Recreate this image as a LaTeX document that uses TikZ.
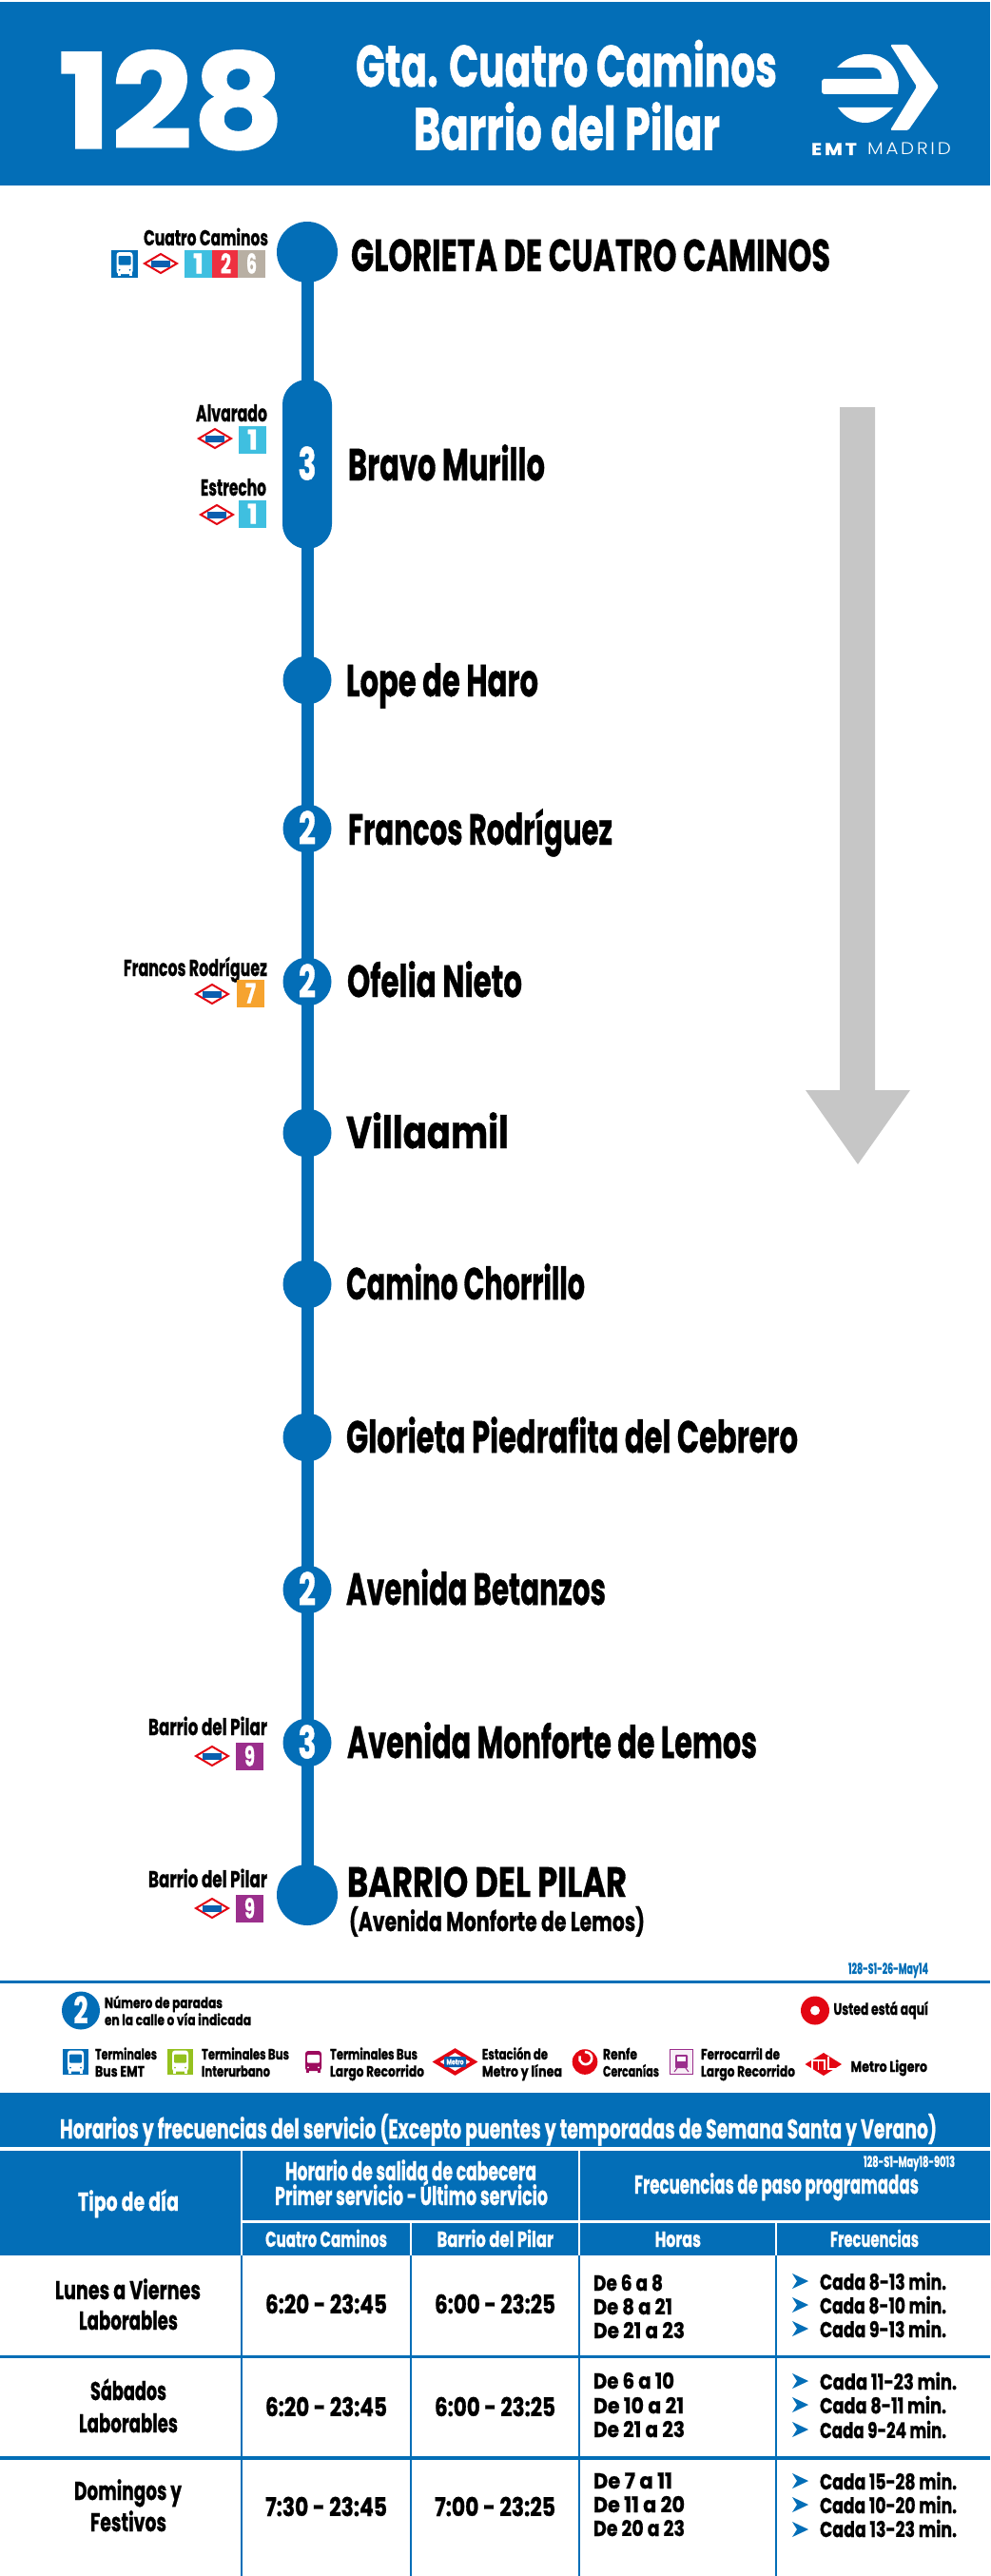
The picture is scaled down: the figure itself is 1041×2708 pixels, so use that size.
\documentclass[tikz,border=0pt]{standalone}
\usepackage{graphicx}
\usepackage{fontspec}
\setmainfont{Poppins}[BoldFeatures={FakeBold=1.0}]
\usetikzlibrary{backgrounds}
\definecolor{emt}{RGB}{3,110,183}
\definecolor{mred}{RGB}{227,6,19}
\definecolor{mbar}{RGB}{11,95,175}
\definecolor{lone}{RGB}{63,191,224}
\definecolor{ltwo}{RGB}{238,48,64}
\definecolor{lsix}{RGB}{184,175,163}
\definecolor{lsev}{RGB}{246,163,47}
\definecolor{lnin}{RGB}{155,47,140}
\definecolor{agrey}{RGB}{198,198,198}
\definecolor{bgreen}{RGB}{149,193,31}
\definecolor{bmag}{RGB}{157,11,93}
\newcounter{tn}
% left-aligned text: x, base y, width, cap height, text
\newcommand\T[6][black]{\stepcounter{tn}\edef\tnm{t\arabic{tn}}%
 \pgfmathsetmacro\fsz{#5/0.7}%
 \node[txt,text=#1,anchor=base west] (\tnm) at ({#2},{#3}) {\resizebox{#4pt}{\height}{\fontsize{\fsz pt}{\fsz pt}\selectfont\bfseries #6}};}
% centred text: cx, cy, width, cap height, text
\newcommand\N[6][white]{\stepcounter{tn}\edef\tnm{t\arabic{tn}}%
 \pgfmathsetmacro\fsz{#5/0.7}%
 \node[txt,text=#1,anchor=base] (\tnm) at ({#2},{#3+#5/2}) {\resizebox{#4pt}{\height}{\fontsize{\fsz pt}{\fsz pt}\selectfont\bfseries #6}};}
\newcommand\metro[2]{%
 \draw[mred,line width=2pt,fill=white,line join=miter] ({#1-17},{#2}) -- ({#1},{#2-10}) -- ({#1+17},{#2}) -- ({#1},{#2+10}) -- cycle;
 \fill[mbar] ({#1-10},{#2-3.5}) rectangle ({#1+10},{#2+3.5});}
\newcommand\tile[4]{\fill[#3] ({#1},{#2}) rectangle ({#1+29},{#2+29});
 \N{#1+14.5}{#2+14.5}{11}{20}{#4}}
% bus: cx, cy, w, h, body, window
\newcommand\busic[6]{%
 \fill[#5,rounded corners=3pt] ({#1-#3/2},{#2-#4/2}) rectangle ({#1+#3/2},{#2+#4/2-2});
 \fill[#5] ({#1-#3/2+1},{#2+#4/2-3}) rectangle ({#1-#3/2+4},{#2+#4/2});
 \fill[#5] ({#1+#3/2-4},{#2+#4/2-3}) rectangle ({#1+#3/2-1},{#2+#4/2});
 \fill[#6,rounded corners=1pt] ({#1-#3/2+2},{#2-#4/2+4}) rectangle ({#1+#3/2-2},{#2+1});
 \fill[#6] ({#1-#3/2+3},{#2+#4/4}) circle (1);
 \fill[#6] ({#1+#3/2-3},{#2+#4/4}) circle (1);}
\newcommand\chev[1]{\fill[emt] (833,{#1-8}) -- (850,{#1}) -- (833,{#1+8}) -- (838,{#1}) -- cycle;}
\tikzset{
 txt/.style={inner sep=0pt,outer sep=0pt},
 stopdot/.style={circle,fill=emt,minimum size=51pt,inner sep=0pt},
 enddot/.style={circle,fill=emt,minimum size=64pt,inner sep=0pt},
 capsule/.style={rectangle,fill=emt,rounded corners=26pt,minimum width=52pt,minimum height=178pt,inner sep=0pt},
 route/.style={emt,line width=13pt},
 rulew/.style={white,line width=3pt},
 ruleb/.style={emt,line width=2.6pt},
 ruleB/.style={emt,line width=3.8pt}
}
\begin{document}
\begin{tikzpicture}[x=1pt,y=-1pt]
\useasboundingbox (0,0) rectangle (1041,2708);
% header
\fill[emt] (0,2) rectangle (1041,195);
\T[white]{61}{156}{238}{97}{128}
\T[white]{374}{91}{443}{43}{Gta. Cuatro Caminos}
\T[white]{435}{157.5}{322}{44}{Barrio del Pilar}
% logo
\fill[white,rounded corners=1.5pt] (936,47) -- (955,47) -- (987,91) -- (955,137) -- (936,137) -- (964,91) -- cycle;
\fill[white] (880,71) .. controls (888,62) and (900,57) .. (912,57) .. controls (932,57) and (945,72) .. (945,90) -- (944,99) -- (866,99) -- (864,97) -- (864,85) -- (866,83) -- (927,83) .. controls (927,76) and (924,71) .. (918,71) -- cycle;
\fill[white] (881,113) -- (939,113) .. controls (930,123) and (920,129) .. (910,129) .. controls (898,129) and (888,123) .. (881,113) -- cycle;
\node[txt,text=white,anchor=base west] (emtw) at (853,163) {\resizebox{45pt}{\height}{\fontsize{18pt}{18pt}\selectfont\addfontfeature{LetterSpace=14}\bfseries EMT\kern-2.5pt}};
\node[txt,text=white,anchor=base west] (madrid) at (912,163) {\resizebox{85pt}{\height}{\fontsize{18pt}{18pt}\fontspec{Poppins Light}[LetterSpace=14]MADRID\kern-2.5pt}};
% direction arrow
\fill[agrey] (883,428) -- (920,428) -- (920,1146) -- (957,1146) -- (902,1224) -- (847,1146) -- (883,1146) -- cycle;
% stops
\node[enddot] (s0) at (323,265) {};
\node[capsule] (s1) at (323,488) {};
\node[stopdot] (s2) at (323,715) {};
\node[stopdot] (s3) at (323,871) {};
\node[stopdot] (s4) at (323,1032) {};
\node[stopdot] (s5) at (323,1191) {};
\node[stopdot] (s6) at (323,1350) {};
\node[stopdot] (s7) at (323,1511) {};
\node[stopdot] (s8) at (323,1671) {};
\node[stopdot] (s9) at (323,1832) {};
\node[enddot] (s10) at (323,1992) {};
\begin{pgfonlayer}{background}
\draw[route] (s0.center) -- (s1.center); \draw[route] (s1.center) -- (s2.center); \draw[route] (s2.center) -- (s3.center);
\draw[route] (s3.center) -- (s4.center); \draw[route] (s4.center) -- (s5.center); \draw[route] (s5.center) -- (s6.center);
\draw[route] (s6.center) -- (s7.center); \draw[route] (s7.center) -- (s8.center); \draw[route] (s8.center) -- (s9.center);
\draw[route] (s9.center) -- (s10.center);
\end{pgfonlayer}
\N{323}{488}{19}{33}{3}
\N{323}{871}{18}{33}{2}
\N{323}{1032}{18}{33}{2}
\N{323}{1671}{18}{33}{2}
\N{323}{1832}{19}{33}{3}
% stop names
\T{369}{285}{504}{33}{GLORIETA DE CUATRO CAMINOS}
\T{366}{505}{207}{33}{Bravo Murillo}
\T{364}{732}{202}{33}{Lope de Haro}
\T{366}{888}{278}{32}{Francos Rodríguez}
\T{365}{1048}{184}{33}{Ofelia Nieto}
\T{364}{1207}{171}{33}{Villaamil}
\T{364}{1366}{251}{33}{Camino Chorrillo}
\T{364}{1527}{475}{33}{Glorieta Piedrafita del Cebrero}
\T{364}{1687}{273}{33}{Avenida Betanzos}
\T{365}{1848}{431}{33}{Avenida Monforte de Lemos}
\T{365}{1994}{294}{31}{BARRIO DEL PILAR}
\T{367}{2030}{311}{20}{(Avenida Monforte de Lemos)}
% connections
\T{151}{258}{131}{16}{Cuatro Caminos}
\fill[emt] (117,263) rectangle (145,292);
\busic{131}{277.5}{17}{25}{white}{emt}
\metro{169}{277}
\tile{194}{263}{lone}{1}
\tile{223}{263}{ltwo}{2}
\tile{250}{263}{lsix}{6}
\T{206}{443}{75}{17}{Alvarado}
\metro{226}{461}
\tile{251}{448}{lone}{1}
\T{211}{521}{69}{17}{Estrecho}
\metro{228}{541}
\tile{251}{526}{lone}{1}
\T{130}{1026}{151}{17}{Francos Rodríguez}
\metro{223}{1045}
\tile{249}{1030}{lsev}{7}
\T{156}{1824}{125}{17}{Barrio del Pilar}
\metro{223}{1846}
\tile{248}{1832}{lnin}{9}
\T{156}{1984}{125}{17}{Barrio del Pilar}
\metro{223}{2006}
\tile{248}{1992}{lnin}{9}
% legend
\T[emt]{892}{2075}{84}{11}{128-S1-26-May14}
\coordinate (rl) at (0,2083.5); \coordinate (rr) at (1041,2083.5);
\draw[ruleB] (rl) -- (rr);
\node[circle,fill=emt,minimum size=40pt,inner sep=0pt] (lg2) at (85,2113.5) {};
\N{85}{2113.5}{15}{27}{2}
\T{110}{2111}{124}{11}{Número de paradas}
\T{110}{2129}{154}{11}{en la calle o vía indicada}
\node[circle,fill=mred,minimum size=30pt,inner sep=0pt] (lgh) at (857,2113.5) {};
\node[circle,fill=white,minimum size=10pt,inner sep=0pt] (lgi) at (857,2113.5) {};
\T{876.5}{2118}{99.5}{12}{Usted está aquí}
\fill[emt] (66,2154) rectangle (93,2181);
\busic{79.5}{2167.5}{17}{24}{white}{emt}
\T{100}{2165}{65}{11}{Terminales}
\T{100}{2183}{52}{11}{Bus EMT}
\fill[bgreen] (176,2154) rectangle (203,2181);
\busic{189.5}{2167.5}{17}{24}{white}{bgreen}
\T{212}{2165}{92}{11}{Terminales Bus}
\T{212}{2183}{72}{11}{Interurbano}
\busic{329.5}{2167.5}{17}{23}{bmag}{white}
\T{347}{2165}{92}{11}{Terminales Bus}
\T{347}{2183}{99}{11}{Largo Recorrido}
\draw[mred,line width=4pt,fill=white,line join=miter] (458.5,2167.5) -- (478.5,2155.5) -- (498.5,2167.5) -- (478.5,2179.5) -- cycle;
\fill[mbar,rounded corners=1pt] (467,2162) rectangle (490,2173);
\N{478.5}{2167.5}{18}{5.5}{Metro}
\T{507}{2165}{69}{11}{Estación de}
\T{507}{2183}{84}{11}{Metro y línea}
\fill[mred] (615,2167.5) circle (13.3);
\draw[white,line width=2.6pt] (615,2157) -- (619,2158) arc[start angle=-60,end angle=200,radius=6.5];
\T{634}{2165}{36}{11}{Renfe}
\T{634}{2183}{59}{11}{Cercanías}
\draw[lnin,line width=1.3pt,fill=lnin!8] (704.5,2154.5) rectangle (728.5,2180.5);
\fill[lnin,rounded corners=1pt] (710,2160) rectangle (723,2174);
\fill[white] (712,2162) rectangle (721,2167);
\draw[lnin,line width=1pt] (712,2174) -- (709,2178); \draw[lnin,line width=1pt] (721,2174) -- (724,2178);
\T{737}{2165}{83}{11}{Ferrocarril de}
\T{737}{2183}{99}{11}{Largo Recorrido}
\fill[mred] (846.5,2170) -- (866,2158) -- (885,2170) -- (866,2182) -- cycle;
\draw[white,line width=1.3pt] (854,2176) -- (854,2166) -- (867,2166) -- (867,2176);
\draw[white,line width=1.3pt] (860.5,2166) -- (860.5,2176);
\draw[white,line width=1.3pt] (871,2162) -- (871,2175) -- (880,2175);
\T{894.5}{2178}{80.5}{11}{Metro Ligero}
% table
\fill[emt] (0,2200) rectangle (1041,2257);
\T[white]{63}{2248}{922}{20}{Horarios y frecuencias del servicio (Excepto puentes y temporadas de Semana Santa y Verano)}
\fill[emt] (0,2261) rectangle (1041,2371);
\coordinate (h0) at (254,2335); \coordinate (h1) at (1041,2335);
\draw[rulew] (h0) -- (h1);
\coordinate (a1) at (254,2261); \coordinate (b1) at (254,2371); \coordinate (c1) at (254,2708);
\coordinate (a2) at (432,2335); \coordinate (b2) at (432,2371); \coordinate (c2) at (432,2708);
\coordinate (a3) at (609,2261); \coordinate (b3) at (609,2371); \coordinate (c3) at (609,2708);
\coordinate (a4) at (816,2335); \coordinate (b4) at (816,2371); \coordinate (c4) at (816,2708);
\foreach \i in {1,2,3,4} {\draw[white,line width=2.6pt] (a\i) -- (b\i); \draw[ruleb] (b\i) -- (c\i);}
\coordinate (r1l) at (0,2477.5); \coordinate (r1r) at (1041,2477.5);
\coordinate (r2l) at (0,2584); \coordinate (r2r) at (1041,2584);
\draw[ruleB] (r1l) -- (r1r); \draw[ruleB] (r2l) -- (r2r);
\T[white]{82}{2324}{106}{19}{Tipo de día}
\T[white]{300}{2292}{264}{19}{Horario de salida de cabecera}
\T[white]{289}{2318}{287}{19}{Primer servicio - Último servicio}
\T[white]{908}{2278}{96}{11}{128-S1-May18-9013}
\T[white]{667}{2306}{299}{19}{Frecuencias de paso programadas}
\T[white]{279}{2362}{128}{16}{Cuatro Caminos}
\T[white]{459.5}{2362}{122.5}{16}{Barrio del Pilar}
\T[white]{688.6}{2362}{48.4}{16}{Horas}
\T[white]{873}{2362}{93}{16}{Frecuencias}
% row 1
\T{58}{2417}{153}{19}{Lunes a Viernes}
\T{83}{2449}{104}{19}{Laborables}
\T{279}{2432}{128}{19}{6:20 - 23:45}
\T{457}{2432}{127}{19}{6:00 - 23:25}
\T{624}{2408}{73}{16}{De 6 a 8}
\T{624}{2433}{83}{16}{De 8 a 21}
\T{624}{2458}{96}{16}{De 21 a 23}
\chev{2398}\chev{2423}\chev{2448}
\T{862}{2407}{133}{16}{Cada 8-13 min.}
\T{862}{2432}{133}{16}{Cada 8-10 min.}
\T{862}{2457}{133}{16}{Cada 9-13 min.}
% row 2
\T{95}{2523}{80}{19}{Sábados}
\T{83}{2557}{104}{19}{Laborables}
\T{279}{2540}{128}{19}{6:20 - 23:45}
\T{457}{2540}{127}{19}{6:00 - 23:25}
\T{624}{2511}{85}{16}{De 6 a 10}
\T{624}{2537}{95}{16}{De 10 a 21}
\T{624}{2562}{96}{16}{De 21 a 23}
\chev{2503}\chev{2528}\chev{2554}
\T{862}{2512}{144}{16}{Cada 11-23 min.}
\T{862}{2537}{133}{16}{Cada 8-11 min.}
\T{862}{2563}{133}{16}{Cada 9-24 min.}
% row 3
\T{78}{2628}{113}{19}{Domingos y}
\T{95}{2661}{80}{19}{Festivos}
\T{279}{2645}{128}{19}{7:30 - 23:45}
\T{457}{2645}{127}{19}{7:00 - 23:25}
\T{624}{2616}{83}{16}{De 7 a 11}
\T{624}{2641}{96}{16}{De 11 a 20}
\T{624}{2666}{96}{16}{De 20 a 23}
\chev{2608}\chev{2633}\chev{2659}
\T{862}{2617}{144}{16}{Cada 15-28 min.}
\T{862}{2642}{144}{16}{Cada 10-20 min.}
\T{862}{2667}{144}{16}{Cada 13-23 min.}
\end{tikzpicture}
\end{document}
